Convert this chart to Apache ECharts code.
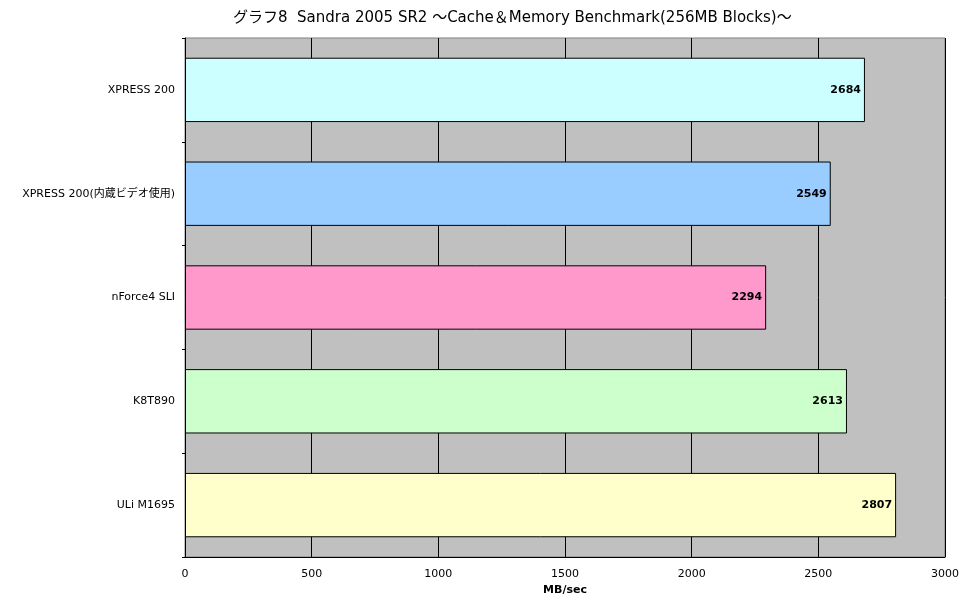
<!DOCTYPE html>
<html>
<head>
<meta charset="utf-8">
<script src="https://cdn.jsdelivr.net/npm/echarts@6/dist/echarts.min.js"></script>
<style>
  html, body { margin: 0; padding: 0; background: #fff; }
  #chart { width: 970px; height: 604px; }
</style>
</head>
<body>
<div id="chart"></div>
<script>
// カテゴリ（上から順）
var categories = ['XPRESS 200', 'XPRESS 200(内蔵ビデオ使用)', 'nForce4 SLI', 'K8T890', 'ULi M1695'];
var values = [2684, 2549, 2294, 2613, 2807];
var barColors = ['#CCFFFF', '#99CCFF', '#FF99CC', '#CCFFCC', '#FFFFCC'];
var xTicks = [0, 500, 1000, 1500, 2000, 2500, 3000];

var font = '"DejaVu Sans", "Noto Sans CJK JP", sans-serif';
var chart = echarts.init(document.getElementById('chart'));

var option = {
  animation: false,
  backgroundColor: '#ffffff',
  title: {
    text: 'グラフ8  Sandra 2005 SR2 ～Cache＆Memory Benchmark(256MB Blocks)～',
    left: 228,
    top: 6,
    textStyle: { fontFamily: font, fontSize: 15, fontWeight: 'normal', color: '#000' }
  },
  grid: {
    left: 185, right: 25, top: 38, bottom: 47,
    show: true,
    backgroundColor: '#C0C0C0',
    borderColor: '#808080',
    borderWidth: 1
  },
  xAxis: {
    type: 'value',
    min: 0, max: 3000, interval: 500,
    name: 'MB/sec',
    nameLocation: 'middle',
    nameGap: 23,
    nameTextStyle: { fontFamily: font, fontSize: 11, fontWeight: 'bold', color: '#000' },
    axisLine: { show: true, lineStyle: { color: '#000', width: 1 } },
    axisTick: { show: false },
    axisLabel: {
      fontFamily: font, fontSize: 11, color: '#000', margin: 12,
      formatter: function (v) { return xTicks.indexOf(v) >= 0 ? String(v) : ''; }
    },
    splitLine: { show: true, lineStyle: { color: '#000', width: 1 } }
  },
  yAxis: {
    type: 'category',
    inverse: true,
    data: categories,
    axisLine: { show: true, lineStyle: { color: '#000', width: 1 } },
    axisTick: { show: true, length: 3, inside: false, lineStyle: { color: '#000' } },
    axisLabel: { fontFamily: font, fontSize: 11, color: '#000', margin: 10 },
    splitLine: { show: false }
  },
  series: [{
    type: 'bar',
    barCategoryGap: '38%',
    data: values.map(function (v, i) {
      return { value: v, itemStyle: { color: barColors[i] } };
    }),
    itemStyle: { borderColor: '#000', borderWidth: 1 },
    label: {
      show: true,
      position: 'insideRight',
      distance: 4,
      fontFamily: font,
      fontSize: 11,
      fontWeight: 'bold',
      color: '#000'
    }
  }]
};

chart.setOption(option);
</script>
</body>
</html>
